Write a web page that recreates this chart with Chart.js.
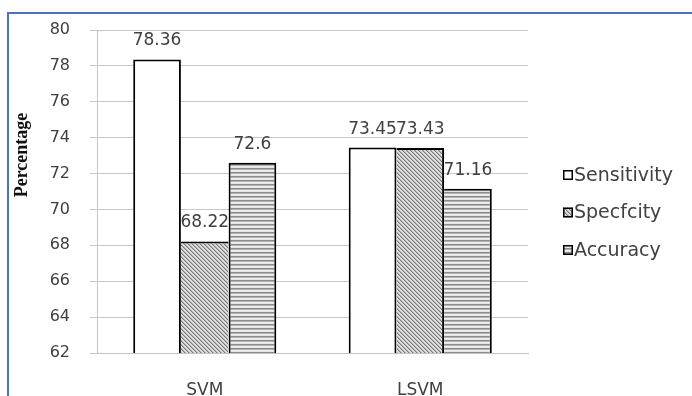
<!DOCTYPE html>
<html>
<head>
<meta charset="utf-8">
<script src="https://cdn.jsdelivr.net/npm/chart.js@4.4.1/dist/chart.umd.min.js"></script>
<style>
  html, body { margin: 0; padding: 0; background: #fff; }
  canvas { display: block; }
</style>
</head>
<body>
<canvas id="chart" width="692" height="396"></canvas>
<script>
// Classifier results (percent)
const categories = ['SVM', 'LSVM'];
const seriesNames = ['Sensitivity', 'Specfcity', 'Accuracy'];
const sensitivity = [78.36, 73.45];
const specificity = [68.22, 73.43];
const accuracy = [72.6, 71.16];
const yMin = 62;
const yMax = 80;
const yStep = 2;
const axisTitle = 'Percentage';

const FONT = 'DejaVu Sans';
const TEXT = '#404040';

// Fill patterns for the three series
function makePattern(kind) {
  const c = document.createElement('canvas');
  const g = c.getContext('2d');
  if (kind === 'plain') {
    return '#ffffff';
  }
  if (kind === 'diag') {
    c.width = 4; c.height = 4;
    g.fillStyle = '#dcdcdc';
    g.fillRect(0, 0, 4, 4);
    for (let y = 0; y < 4; y++) {
      for (let x = 0; x < 4; x++) {
        const d = ((x - y) % 4 + 4) % 4;
        if (d === 0) { g.fillStyle = '#7a7a7a'; g.fillRect(x, y, 1, 1); }
        else if (d === 1) { g.fillStyle = '#b4b4b4'; g.fillRect(x, y, 1, 1); }
      }
    }
  } else {
    c.width = 4; c.height = 4;
    const rows = ['#8c8c8c', '#b0b0b0', '#f0f0f0', '#e4e4e4'];
    rows.forEach((col, i) => { g.fillStyle = col; g.fillRect(0, i, 4, 1); });
  }
  return g.createPattern(c, 'repeat');
}

const fills = [makePattern('plain'), makePattern('diag'), makePattern('horiz')];
const seriesData = [sensitivity, specificity, accuracy];

// Each shared edge between neighbouring bars is drawn once, by the taller bar
function edgeWidths(ctx) {
  const ds = ctx.chart.data.datasets;
  const i = ctx.datasetIndex, j = ctx.dataIndex;
  const v = ds[i].data[j];
  const prev = i > 0 ? ds[i - 1].data[j] : -Infinity;
  const next = i < ds.length - 1 ? ds[i + 1].data[j] : -Infinity;
  return { top: 2, bottom: 0, left: prev <= v ? 2 : 0, right: next < v ? 2 : 0 };
}

const framePlugin = {
  id: 'frame',
  beforeDraw(chart) {
    const ctx = chart.ctx;
    ctx.save();
    ctx.fillStyle = '#ffffff';
    ctx.fillRect(0, 0, chart.width, chart.height);
    ctx.strokeStyle = '#4a72bd';
    ctx.lineWidth = 2;
    ctx.beginPath();
    ctx.moveTo(8, chart.height);
    ctx.lineTo(8, 13);
    ctx.lineTo(chart.width, 13);
    ctx.stroke();
    ctx.restore();
  }
};

const annotatePlugin = {
  id: 'annotate',
  afterDatasetsDraw(chart) {
    const ctx = chart.ctx;
    ctx.save();
    // value labels above each bar
    ctx.font = '17px "' + FONT + '"';
    ctx.fillStyle = TEXT;
    ctx.textAlign = 'center';
    ctx.textBaseline = 'alphabetic';
    chart.data.datasets.forEach((ds, i) => {
      chart.getDatasetMeta(i).data.forEach((bar, j) => {
        ctx.fillText(String(ds.data[j]), bar.x, bar.y - 14);
      });
    });

    // legend
    const rowsY = [175, 212.5, 250];
    ctx.textAlign = 'left';
    ctx.textBaseline = 'middle';
    ctx.font = '19px "' + FONT + '"';
    chart.data.datasets.forEach((ds, i) => {
      const y = rowsY[i];
      ctx.fillStyle = ds.backgroundColor;
      ctx.fillRect(563, y - 5, 10, 10);
      ctx.strokeStyle = '#000';
      ctx.lineWidth = 1.5;
      ctx.strokeRect(563.75, y - 4.25, 8.5, 8.5);
      ctx.fillStyle = TEXT;
      ctx.fillText(ds.label, 574, y + 1);
    });

    // vertical axis title
    ctx.save();
    ctx.translate(22, 155);
    ctx.rotate(-Math.PI / 2);
    ctx.font = 'bold 18px "Liberation Serif"';
    ctx.fillStyle = '#111';
    ctx.textAlign = 'center';
    ctx.textBaseline = 'middle';
    ctx.fillText(axisTitle, 0, 0);
    ctx.restore();
    ctx.restore();
  }
};

new Chart(document.getElementById('chart'), {
  type: 'bar',
  data: {
    labels: categories,
    datasets: seriesNames.map((name, i) => ({
      label: name,
      data: seriesData[i],
      backgroundColor: fills[i],
      borderColor: '#000000',
      borderWidth: edgeWidths,
      borderSkipped: 'start',
      categoryPercentage: 0.664,
      barPercentage: 1.0
    }))
  },
  options: {
    responsive: false,
    devicePixelRatio: 1,
    animation: false,
    layout: { padding: { top: 30, right: 164, bottom: 0, left: 0 } },
    plugins: {
      legend: { display: false },
      tooltip: { enabled: false }
    },
    scales: {
      x: {
        grid: { display: false, drawTicks: false },
        border: { display: true, color: '#c4c4c4', width: 1 },
        ticks: { font: { family: FONT, size: 17 }, color: TEXT, padding: 27 },
        afterFit(scale) { scale.height = 43; }
      },
      y: {
        min: yMin,
        max: yMax,
        ticks: { stepSize: yStep, padding: 20, font: { family: FONT, size: 16 }, color: TEXT },
        grid: { color: '#c8c8c8', tickLength: 7, drawTicks: true },
        border: { color: '#c4c4c4', width: 1 },
        afterFit(scale) { scale.width = 97; }
      }
    }
  },
  plugins: [framePlugin, annotatePlugin]
});
</script>
</body>
</html>
